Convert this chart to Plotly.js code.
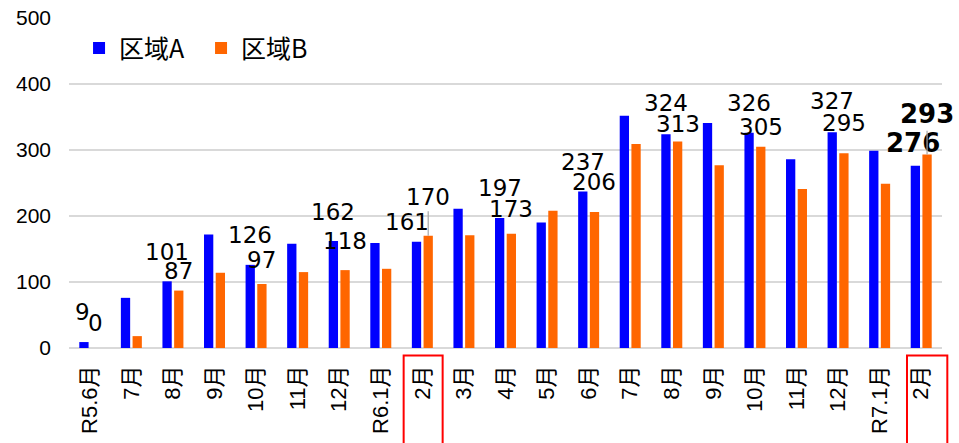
<!DOCTYPE html>
<html>
<head>
<meta charset="utf-8">
<script src="https://cdn.plot.ly/plotly-3.0.1.min.js"></script>
<style>html,body{margin:0;padding:0;background:#fff;}#chart{width:959px;height:443px;}</style>
</head>
<body>
<div id="chart"></div>
<script>
// ---- data ----
const categories = ["R5.6月","7月","8月","9月","10月","11月","12月","R6.1月","2月","3月","4月","5月","6月","7月","8月","9月","10月","11月","12月","R7.1月","2月"];
const seriesNames = ["区域A", "区域B"];
const valuesA = [9, 76, 101, 172, 126, 158, 162, 159, 161, 211, 197, 190, 237, 352, 324, 341, 326, 286, 327, 299, 276];
const valuesB = [0, 18, 87, 114, 97, 115, 118, 120, 170, 171, 173, 208, 206, 309, 313, 277, 305, 241, 295, 249, 293];
// which bars carry a value label (true = labelled)
const labelledA = [true,false,true,false,true,false,true,false,true,false,true,false,true,false,true,false,true,false,true,false,true];
const labelledB = labelledA;
const highlighted = [8, 20];      // categories boxed in red
const boldLabelIndex = 20;        // latest month shown in bold

// ---- styling (positions of labels relative to bar tops, px) ----
const shiftA = {0:[30,-1.5], 2:[29,0], 4:[30,0], 6:[29.5,0], 8:[20,-10], 10:[30,0], 12:[30,0], 14:[31,0], 16:[29.6,0], 18:[30.7,0], 20:[22.6,-2]};
const shiftB = {0:[25,0], 2:[20,0], 4:[23.5,0], 6:[29,0], 8:[39,0], 10:[25,0], 12:[30,0], 14:[17,0], 16:[20,0], 18:[30,0], 20:[40.4,0]};
const leaderB = {8:true, 20:true};
const boxOffsets = {8:[-0.45,0.488], 20:[-0.342,0.628]};

const xIdx = categories.map((_, i) => i);
const nCat = categories.length;
const barOff = 0.1406;

const traces = [
  {type:'bar', name:seriesNames[0], x:xIdx, y:valuesA, marker:{color:'#0000ff'}},
  {type:'bar', name:seriesNames[1], x:xIdx, y:valuesB, marker:{color:'#ff6600'}}
];

const annotations = [];
const normalFont = {family:'DejaVu Sans', size:23, color:'#000'};
const boldFont = {family:'DejaVu Sans', size:26, color:'#000', weight:'bold'};
xIdx.forEach(i => {
  if (labelledA[i]) {
    const s = shiftA[i] || [30,0];
    annotations.push({x:i - barOff, y:valuesA[i], xref:'x', yref:'y', text: i===boldLabelIndex ? '<b>'+valuesA[i]+'</b>' : String(valuesA[i]),
      showarrow:false, xanchor:'center', yanchor:'middle', yshift:s[0], xshift:s[1], font: i===boldLabelIndex ? boldFont : normalFont});
  }
  if (labelledB[i]) {
    const s = shiftB[i] || [30,0];
    const a = {x:i + barOff, y:valuesB[i], xref:'x', yref:'y', text: i===boldLabelIndex ? '<b>'+valuesB[i]+'</b>' : String(valuesB[i]),
      xanchor:'center', yanchor:'middle', font: i===boldLabelIndex ? boldFont : normalFont};
    if (leaderB[i]) {
      Object.assign(a, {showarrow:true, arrowhead:0, arrowwidth:1.2, arrowcolor:'#a6a6a6', ax:s[1], ay:-s[0], standoff:0});
    } else {
      Object.assign(a, {showarrow:false, yshift:s[0], xshift:s[1]});
    }
    annotations.push(a);
  }
});

const shapes = highlighted.map(i => ({
  type:'rect', xref:'paper', yref:'paper',
  x0:(i + boxOffsets[i][0] + 0.5)/nCat, x1:(i + boxOffsets[i][1] + 0.5)/nCat,
  y0:-0.0225, y1:-0.32,
  line:{color:'#ff0000', width:2}, fillcolor:'rgba(0,0,0,0)'
}));

const layout = {
  width:959, height:443,
  margin:{l:69, r:17, t:18, b:95},
  paper_bgcolor:'#fff', plot_bgcolor:'#fff',
  barmode:'group', bargap:0.4375, bargroupgap:0.205,
  showlegend:true,
  legend:{orientation:'h', x:0.0115, xanchor:'left', y:0.908, yanchor:'middle',
    font:{family:'Noto Sans CJK JP', size:25, color:'#000'}, entrywidth:77, entrywidthmode:'pixels', bgcolor:'rgba(0,0,0,0)'},
  xaxis:{range:[-0.5, nCat-0.5], tickmode:'array', tickvals:xIdx, ticktext:categories, tickangle:-90,
    showgrid:false, zeroline:false, showline:false, ticks:'', ticklabelstandoff:12,
    tickfont:{family:'Liberation Sans, Noto Sans CJK JP', size:22, color:'#000'}},
  yaxis:{range:[0,500], dtick:100, tick0:0, showgrid:true, gridcolor:'#d9d9d9', gridwidth:2,
    zeroline:true, zerolinecolor:'#d9d9d9', zerolinewidth:2, showline:false, ticks:'', ticklabelstandoff:17,
    tickfont:{family:'Liberation Sans', size:21, color:'#000'}},
  annotations:annotations,
  shapes:shapes
};

Plotly.newPlot('chart', traces, layout, {staticPlot:true, displayModeBar:false});
</script>
</body>
</html>
